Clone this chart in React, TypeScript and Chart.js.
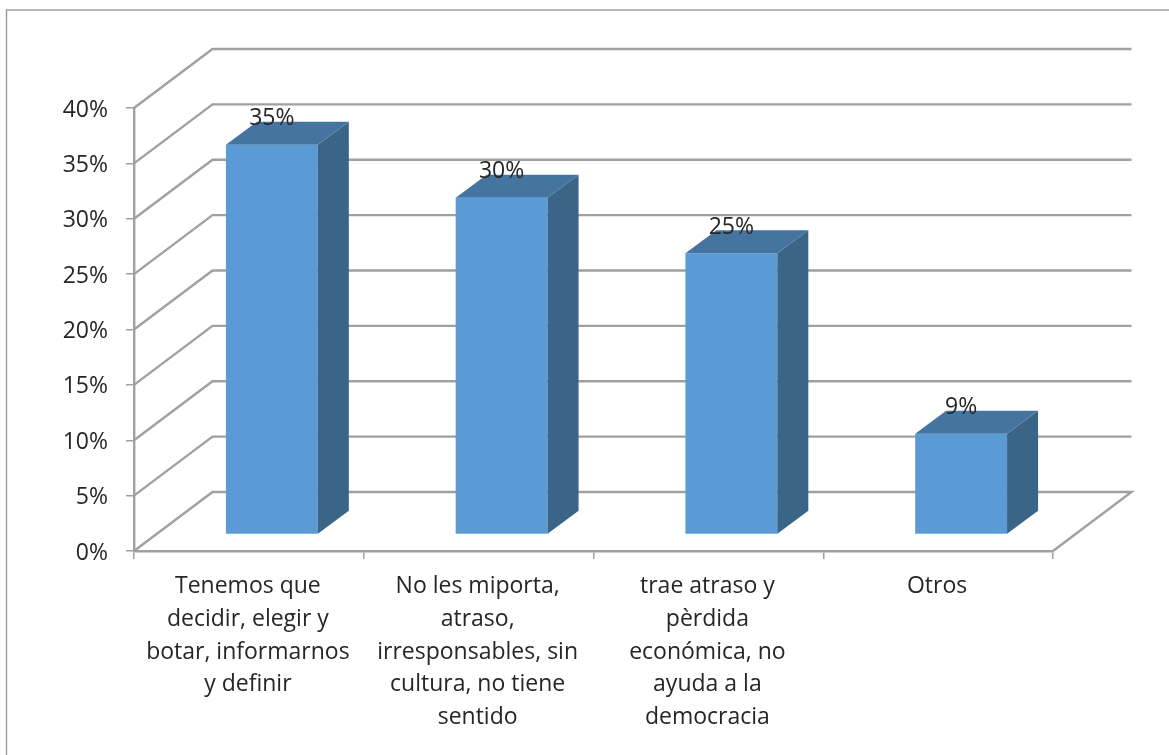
import React, { useEffect, useRef } from "react";
import { Chart, registerables } from "chart.js";

Chart.register(...registerables);

const categories = [
  ["Tenemos que", "decidir, elegir y", "botar, informarnos", "y definir"],
  ["No les miporta,", "atraso,", "irresponsables, sin", "cultura, no tiene", "sentido"],
  ["trae atraso y", "pèrdida", "económica, no", "ayuda a la", "democracia"],
  ["Otros"],
];
const values = [35.2, 30.4, 25.4, 9.1];

const GRID = "#a0a0a0";
const FRONT = "#5b9bd5";
const SIDE = "#3a6587";
const TOP = "#44749f";
const TEXT = "#262626";
const FONT = "'Open Sans', sans-serif";

const WALL_DX = 78.5;
const WALL_DY = -59;
const BAR_DX = 23;
const BAR_DY = -16.5;
const BAR_SIDE_DX = 31;
const BAR_SIDE_DY = -23;

const scene3d = {
  id: "scene3d",
  beforeDraw(chart: any) {
    const { ctx, width, height } = chart;
    ctx.save();
    ctx.strokeStyle = GRID;
    ctx.lineWidth = 1.5;
    ctx.beginPath();
    ctx.moveTo(6.5, height);
    ctx.lineTo(6.5, 10);
    ctx.lineTo(width, 10);
    ctx.stroke();
    ctx.restore();
  },
  beforeDatasetsDraw(chart: any) {
    const { ctx, chartArea, scales } = chart;
    const { left, right } = chartArea;
    ctx.save();
    ctx.strokeStyle = GRID;
    ctx.lineWidth = 2.4;
    ctx.lineJoin = "miter";
    scales.y.ticks.forEach((t: any) => {
      const y = scales.y.getPixelForValue(t.value);
      ctx.beginPath();
      ctx.moveTo(left, y);
      ctx.lineTo(left + WALL_DX, y + WALL_DY);
      ctx.lineTo(right + WALL_DX, y + WALL_DY);
      if (t.value === 0) ctx.lineTo(right, y);
      ctx.stroke();
    });
    ctx.restore();
  },
  beforeDatasetDraw(chart: any) {
    chart.ctx.save();
    chart.ctx.translate(BAR_DX, BAR_DY);
  },
  afterDatasetDraw(chart: any, args: any) {
    const { ctx } = chart;
    args.meta.data.forEach((bar: any) => {
      const { x, y, base, width } = bar.getProps(["x", "y", "base", "width"], true);
      const l = x - width / 2;
      const r = x + width / 2;
      ctx.fillStyle = SIDE;
      ctx.beginPath();
      ctx.moveTo(r, y);
      ctx.lineTo(r + BAR_SIDE_DX, y + BAR_SIDE_DY);
      ctx.lineTo(r + BAR_SIDE_DX, base + BAR_SIDE_DY);
      ctx.lineTo(r, base);
      ctx.closePath();
      ctx.fill();
      ctx.fillStyle = TOP;
      ctx.beginPath();
      ctx.moveTo(l, y);
      ctx.lineTo(l + BAR_SIDE_DX, y + BAR_SIDE_DY);
      ctx.lineTo(r + BAR_SIDE_DX, y + BAR_SIDE_DY);
      ctx.lineTo(r, y);
      ctx.closePath();
      ctx.fill();
    });
    ctx.restore();
  },
  afterDatasetsDraw(chart: any) {
    const { ctx } = chart;
    ctx.save();
    ctx.fillStyle = TEXT;
    ctx.font = `23px ${FONT}`;
    ctx.textAlign = "center";
    ctx.textBaseline = "middle";
    chart.getDatasetMeta(0).data.forEach((bar: any, i: number) => {
      const { x, y } = bar.getProps(["x", "y"], true);
      ctx.fillText(`${Math.round(values[i])}%`, x + BAR_DX, y + BAR_DY - 26);
    });
    ctx.restore();
  },
};

export default function App() {
  const ref = useRef<HTMLCanvasElement>(null);
  useEffect(() => {
    const chart = new Chart(ref.current as HTMLCanvasElement, {
      type: "bar",
      data: {
        labels: categories as any,
        datasets: [
          {
            data: values,
            backgroundColor: FRONT,
            barPercentage: 0.4,
            categoryPercentage: 1,
          },
        ],
      },
      plugins: [scene3d],
      options: {
        responsive: false,
        animation: false,
        layout: { padding: { top: 108, right: 116, left: 0, bottom: 0 } },
        plugins: { legend: { display: false }, tooltip: { enabled: false }, title: { display: false } },
        scales: {
          x: {
            afterFit: (s: any) => { s.height = 204; },
            grid: { drawOnChartArea: false, drawTicks: true, tickLength: 8, color: GRID, lineWidth: 1.5 },
            border: { color: GRID, width: 2.4 },
            ticks: {
              autoSkip: false,
              maxRotation: 0,
              minRotation: 0,
              padding: 11,
              labelOffset: -1,
              color: TEXT,
              font: { family: FONT, size: 23, lineHeight: "32.8px" },
            },
          },
          y: {
            min: 0,
            max: 40,
            afterFit: (s: any) => { s.width = 134; },
            grid: { drawOnChartArea: false, drawTicks: true, tickLength: 8, color: GRID, lineWidth: 1.5 },
            border: { color: GRID, width: 2.4 },
            ticks: {
              stepSize: 5,
              padding: 18,
              labelOffset: 2,
              color: TEXT,
              font: { family: FONT, size: 23 },
              callback: (v: any) => `${v}%`,
            },
          },
        },
      } as any,
    });
    return () => chart.destroy();
  }, []);
  return (
    <div style={{ position: "fixed", left: 0, top: 0, width: 1169, height: 755, background: "#fff" }}>
      <canvas ref={ref} width={1169} height={755} style={{ display: "block", filter: "blur(0.6px)" }} />
    </div>
  );
}
